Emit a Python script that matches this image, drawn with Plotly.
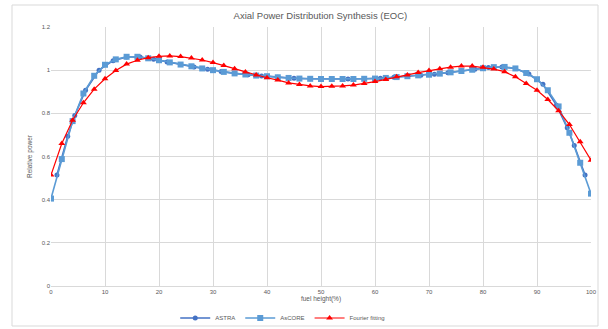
import plotly.graph_objects as go

# ---- data ----
astra_x = [1.1, 3.1, 4.4, 6.4, 8.9, 11.5, 14, 16.5, 19, 21.5, 24, 26.5, 29, 31.5, 34, 36.5, 39,
           42, 45, 48, 50, 52, 55, 58, 61, 63.5, 66, 68.5, 71, 73.5, 76, 78.5, 81, 83.5, 86,
           88.5, 91.1, 93.6, 95.6, 96.9, 98.9]
astra_y = [0.514, 0.694, 0.79, 0.907, 1.0, 1.044, 1.061, 1.061, 1.051, 1.038, 1.026, 1.015, 1.004,
           0.994, 0.985, 0.979, 0.973, 0.967, 0.962, 0.960, 0.959, 0.959, 0.959, 0.960, 0.962,
           0.967, 0.972, 0.977, 0.981, 0.988, 0.996, 1.004, 1.012, 1.015, 1.008, 0.982, 0.935,
           0.838, 0.733, 0.651, 0.514]

grid_x = list(range(0, 101, 2))
ascore_y = [0.405, 0.588, 0.764, 0.892, 0.974, 1.025, 1.05, 1.062, 1.062, 1.055, 1.046, 1.036,
            1.026, 1.018, 1.008, 1.0, 0.992, 0.985, 0.98, 0.975, 0.972, 0.967, 0.964, 0.961,
            0.960, 0.959, 0.959, 0.959, 0.959, 0.960, 0.961, 0.964, 0.968, 0.972, 0.976, 0.979,
            0.984, 0.99, 0.996, 1.002, 1.009, 1.014, 1.015, 1.008, 0.987, 0.958, 0.907, 0.832,
            0.71, 0.571, 0.428]
fourier_y = [0.514, 0.66, 0.768, 0.849, 0.912, 0.96, 0.998, 1.028, 1.046, 1.058, 1.064, 1.066,
             1.063, 1.056, 1.047, 1.035, 1.022, 1.007, 0.992, 0.978, 0.965, 0.954, 0.941, 0.934,
             0.927, 0.924, 0.925, 0.927, 0.931, 0.938, 0.947, 0.957, 0.969, 0.978, 0.989, 0.999,
             1.006, 1.014, 1.019, 1.019, 1.013, 1.005, 0.993, 0.969, 0.938, 0.907, 0.864, 0.812,
             0.748, 0.668, 0.583]

x_ticks = list(range(0, 101, 10))
y_ticks = [0, 0.2, 0.4, 0.6, 0.8, 1, 1.2]
y_tick_labels = ["0", "0.2", "0.4", "0.6", "0.8", "1", "1.2"]

FONT = "Liberation Sans"
GRAY = "#595959"
GRID = "#D9D9D9"

fig = go.Figure()
fig.add_trace(go.Scatter(x=astra_x, y=astra_y, name="ASTRA", mode="lines+markers",
                         line=dict(color="#4472C4", width=1.6),
                         marker=dict(symbol="circle", size=5, color="#4472C4")))
fig.add_trace(go.Scatter(x=grid_x, y=ascore_y, name="AsCORE", mode="lines+markers",
                         line=dict(color="#5B9BD5", width=1.6),
                         marker=dict(symbol="square", size=6, color="#5B9BD5")))
fig.add_trace(go.Scatter(x=grid_x, y=fourier_y, name="Fourier fitting", mode="lines+markers",
                         line=dict(color="#FF0000", width=1.2),
                         marker=dict(symbol="triangle-up", size=6, color="#FF0000")))

fig.update_layout(
    width=608, height=329,
    margin=dict(l=51, r=17, t=27, b=43, autoexpand=False),
    paper_bgcolor="white", plot_bgcolor="white",
    font=dict(family=FONT, color=GRAY, size=6),
    title=dict(text="Axial Power Distribution Synthesis (EOC)", x=0.527, xanchor="center",
               y=1 - 16 / 329, yanchor="middle", font=dict(size=9.5, color=GRAY, family=FONT)),
    showlegend=True,
    legend=dict(orientation="h", xref="container", yref="container",
                x=0.465, xanchor="center", y=1 - 318 / 329, yanchor="middle",
                font=dict(size=6, color=GRAY), itemwidth=30, tracegroupgap=0,
                bgcolor="rgba(0,0,0,0)"),
    shapes=[dict(type="rect", xref="paper", yref="paper",
                 x0=-39 / 540, x1=1 + 7 / 540, y0=-40 / 259, y1=1 + 22 / 259,
                 line=dict(color="#D9D9D9", width=1), layer="below")],
)
fig.update_xaxes(range=[0, 100], tickvals=x_ticks, showgrid=True, gridcolor=GRID, gridwidth=1,
                 zeroline=False, showline=True, linecolor=GRID, ticks="", ticklen=0,
                 tickfont=dict(size=6, color=GRAY),
                 title=dict(text="fuel height(%)", font=dict(size=6.5, color=GRAY), standoff=7))
fig.update_yaxes(range=[0, 1.2], tickvals=y_ticks, ticktext=y_tick_labels, showgrid=True,
                 gridcolor=GRID, gridwidth=1, zeroline=False, showline=False, ticks="",
                 tickfont=dict(size=6, color=GRAY),
                 title=dict(text="Relative power", font=dict(size=6.5, color=GRAY), standoff=8))

fig.write_html("out.html")
